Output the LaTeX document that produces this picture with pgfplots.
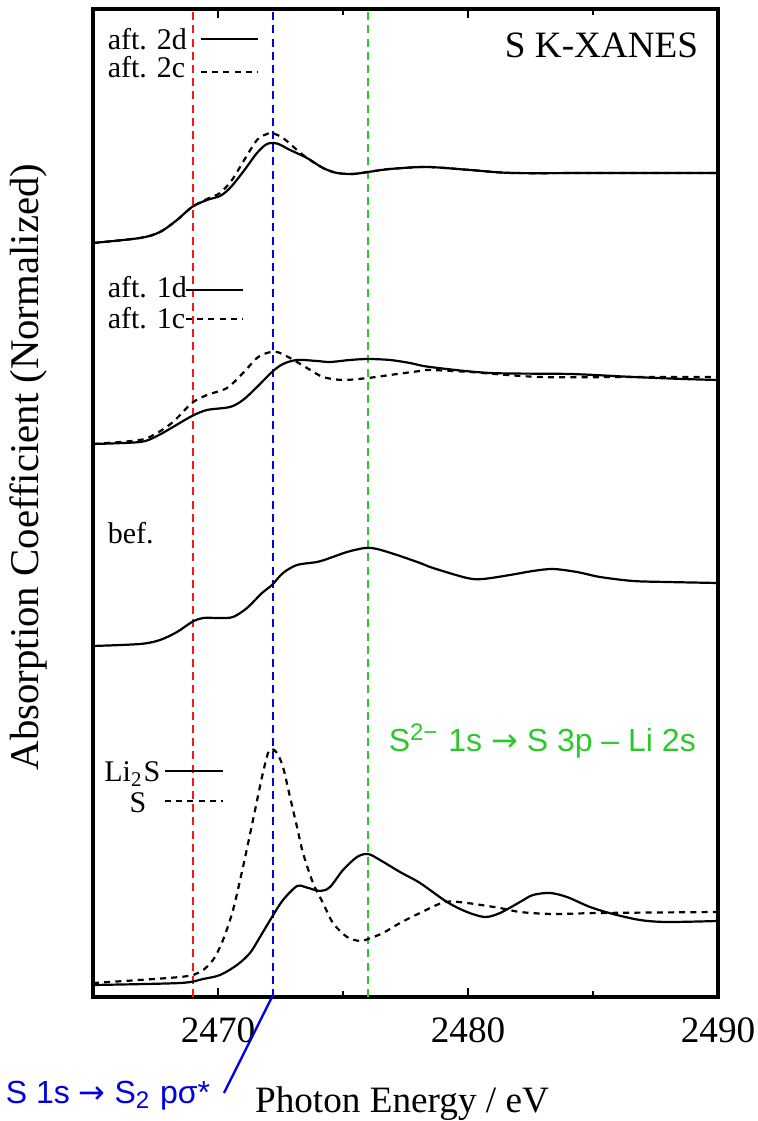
\documentclass[border=0pt]{standalone}
\usepackage{fontspec}
\setmainfont{Liberation Serif}
\setsansfont{Liberation Sans}
\newfontfamily\symfont{DejaVu Sans}
\usepackage{pgfplots}
\pgfplotsset{compat=1.18}
\definecolor{lnred}{RGB}{255,20,20}
\definecolor{lnblue}{RGB}{0,0,225}
\definecolor{lngreen}{RGB}{45,200,45}
\newcommand{\arr}{{\symfont →}}

\begin{document}
\begin{tikzpicture}[
  lbl/.style={font=\fontsize{7.5}{9}\selectfont, inner sep=0pt},
  ann/.style={font=\sffamily\fontsize{8}{10}\selectfont, inner sep=0pt},
  big/.style={font=\fontsize{9.3}{11}\selectfont, inner sep=0pt},
  dsh/.style={dash pattern=on 1.5pt off 1.3pt},
  vline/.style={line width=0.6pt, dash pattern=on 2pt off 1.3pt},
  crv/.style={black, line width=0.55pt, smooth, tension=0.5}]
\useasboundingbox (-23.25pt,-31pt) rectangle (166.25pt,249.25pt);
\clip (-23.25pt,-31pt) rectangle (166.25pt,249.25pt);
\begin{axis}[
  at={(0,0)}, anchor=south west,
  scale only axis, width=156.25pt, height=247pt,
  xmin=2465, xmax=2490, ymin=0, ymax=9.88,
  xtick={2470,2480,2490}, minor xtick={2475,2485},
  ytick=\empty,
  tick align=inside,
  major tick length=2.3pt, minor tick length=1.4pt,
  every tick/.style={black, line width=0.5pt},
  axis line style={line width=1pt},
  xticklabel style={font=\fontsize{9.3}{11}\selectfont, anchor=base, yshift=-11.25pt, inner sep=0pt},
  /pgf/number format/1000 sep={},
  /pgf/number format/assume math mode=true,
  clip=false,
]
% reference energies
\addplot[lnred, vline] coordinates {(2469.0,0) (2469.0,9.88)};
\addplot[lnblue, vline] coordinates {(2472.2,0) (2472.2,9.88)};
\addplot[lngreen, vline] coordinates {(2476.0,0) (2476.0,9.88)};

% aft. 2d
\addplot[crv] coordinates {
(2465.00,7.54) (2466.88,7.59) (2467.68,7.65) (2468.36,7.77) (2468.96,7.90)
(2469.56,7.97) (2470.08,8.01) (2470.48,8.09) (2471.00,8.25) (2471.56,8.44)
(2471.96,8.53) (2472.36,8.535) (2472.88,8.47) (2473.56,8.39) (2474.20,8.29)
(2474.76,8.24) (2475.40,8.23) (2476.00,8.25) (2476.88,8.28) (2478.36,8.30)
(2480.08,8.27) (2481.80,8.24) (2485.28,8.24) (2490.00,8.24)};
% aft. 2c
\addplot[crv, dsh] coordinates {
(2465.00,7.54) (2466.88,7.59) (2467.68,7.65) (2468.36,7.77) (2468.96,7.90)
(2469.56,7.98) (2470.08,8.04) (2470.56,8.17) (2471.00,8.35) (2471.56,8.57)
(2471.96,8.63) (2472.16,8.64) (2472.60,8.59) (2473.16,8.47) (2473.56,8.39)
(2474.20,8.29) (2474.76,8.24) (2475.40,8.23) (2476.00,8.25) (2476.88,8.28)
(2478.36,8.30) (2480.08,8.27) (2481.80,8.24) (2485.28,8.24) (2490.00,8.24)};

% aft. 1d
\addplot[crv] coordinates {
(2465.00,5.53) (2466.88,5.55) (2467.56,5.61) (2468.20,5.70) (2468.96,5.81)
(2469.56,5.87) (2470.48,5.90) (2471.00,5.97) (2471.56,6.10) (2472.16,6.25)
(2472.60,6.33) (2473.16,6.37) (2473.96,6.36) (2474.48,6.35) (2475.28,6.37)
(2476.00,6.38) (2476.88,6.37) (2477.68,6.34) (2478.48,6.30) (2480.88,6.24)
(2484.08,6.23) (2486.60,6.20) (2488.60,6.18) (2490.00,6.17)};
% aft. 1c
\addplot[crv, dsh] coordinates {
(2465.00,5.53) (2466.88,5.57) (2467.56,5.64) (2468.20,5.75) (2468.96,5.94)
(2469.56,6.02) (2470.36,6.09) (2471.00,6.24) (2471.56,6.39) (2471.96,6.44)
(2472.36,6.45) (2472.88,6.39) (2473.56,6.29) (2474.20,6.20) (2475.00,6.17)
(2476.00,6.19) (2476.88,6.22) (2478.08,6.26) (2478.48,6.27) (2480.08,6.25)
(2482.88,6.20) (2486.60,6.20) (2490.00,6.20)};

% bef.
\addplot[crv] coordinates {
(2465.00,3.51) (2466.88,3.53) (2467.68,3.57) (2468.36,3.65) (2468.96,3.75)
(2469.40,3.79) (2470.08,3.79) (2470.60,3.80) (2471.16,3.89) (2471.76,4.04)
(2472.16,4.12) (2472.60,4.24) (2473.16,4.32) (2473.96,4.35) (2474.48,4.39)
(2475.16,4.45) (2475.88,4.49) (2476.36,4.48) (2477.16,4.42) (2478.08,4.34)
(2478.60,4.29) (2479.96,4.19) (2480.60,4.18) (2481.68,4.22) (2482.60,4.26)
(2483.40,4.28) (2484.36,4.25) (2485.28,4.20) (2486.60,4.16) (2487.96,4.15)
(2490.00,4.14)};

% Li2S
\addplot[crv] coordinates {
(2465.00,0.12) (2468.48,0.14) (2469.40,0.18) (2470.08,0.22) (2470.76,0.32)
(2471.28,0.44) (2471.68,0.60) (2472.16,0.80) (2472.60,0.97) (2473.16,1.11)
(2473.48,1.10) (2474.08,1.06) (2474.48,1.10) (2475.00,1.27) (2475.56,1.40)
(2476.00,1.43) (2476.48,1.37) (2477.28,1.25) (2478.08,1.14) (2479.16,0.95)
(2479.96,0.85) (2480.68,0.80) (2481.28,0.84) (2482.08,0.95) (2482.60,1.02)
(2483.28,1.04) (2483.96,1.00) (2484.88,0.90) (2485.80,0.83) (2486.88,0.77)
(2487.96,0.75) (2490.00,0.76)};
% S
\addplot[crv, dsh] coordinates {
(2465.00,0.14) (2468.48,0.20) (2469.28,0.25) (2469.80,0.37) (2470.20,0.57)
(2470.60,0.87) (2471.00,1.30) (2471.40,1.77) (2471.76,2.20) (2472.00,2.44)
(2472.16,2.48) (2472.36,2.44) (2472.60,2.30) (2472.88,2.00) (2473.16,1.70)
(2473.40,1.44) (2473.80,1.14) (2474.20,0.94) (2474.60,0.74) (2475.16,0.60)
(2475.68,0.56) (2476.00,0.58) (2476.60,0.64) (2477.28,0.74) (2478.08,0.84)
(2479.08,0.95) (2479.96,0.94) (2481.28,0.89) (2482.08,0.85) (2483.40,0.83)
(2485.28,0.84) (2490.00,0.85)};

% legends drawn inside the panel
\node[lbl, anchor=base west] at (axis cs:2465.56,9.47) {aft. 2d};
\draw[black, line width=0.55pt] (axis cs:2469.32,9.58) -- (axis cs:2471.60,9.58);
\node[lbl, anchor=base west] at (axis cs:2465.56,9.19) {aft. 2c};
\draw[black, line width=0.55pt, dsh] (axis cs:2469.32,9.25) -- (axis cs:2471.60,9.25);
\node[lbl, anchor=base west] at (axis cs:2465.56,6.99) {aft. 1d};
\draw[black, line width=0.55pt] (axis cs:2468.72,7.07) -- (axis cs:2471.00,7.07);
\node[lbl, anchor=base west] at (axis cs:2465.56,6.68) {aft. 1c};
\draw[black, line width=0.55pt, dsh] (axis cs:2468.72,6.78) -- (axis cs:2471.00,6.78);
\node[lbl, anchor=base west] at (axis cs:2465.56,4.53) {bef.};
\node[lbl, anchor=base east] at (axis cs:2467.72,2.15) {Li\textsubscript{2}S};
\draw[black, line width=0.55pt] (axis cs:2467.88,2.26) -- (axis cs:2470.20,2.26);
\node[lbl, anchor=base east] at (axis cs:2467.16,1.84) {S};
\draw[black, line width=0.55pt, dsh] (axis cs:2467.88,1.96) -- (axis cs:2470.20,1.96);

\node[big, anchor=base east] at (axis cs:2489.24,9.39) {S K-XANES};
\node[ann, anchor=base west, text=lngreen] at (axis cs:2476.80,2.45)
  {S\textsuperscript{2−} 1s \arr{} S 3p – Li 2s};
\draw[lnblue, line width=0.6pt] (axis cs:2472.16,0) -- (axis cs:2470.24,-0.96);
\node[ann, anchor=base east, text=lnblue] at (axis cs:2469.72,-1.06)
  {S 1s \arr{} S\textsubscript{2} pσ*};
\node[big, anchor=base] at (axis cs:2477.36,-1.15) {Photon Energy / eV};
\node[font=\fontsize{10.2}{12}\selectfont, inner sep=0pt, rotate=90] at (axis cs:2462.40,5.30)
  {Absorption Coefficient (Normalized)};
\end{axis}
\end{tikzpicture}
\end{document}
